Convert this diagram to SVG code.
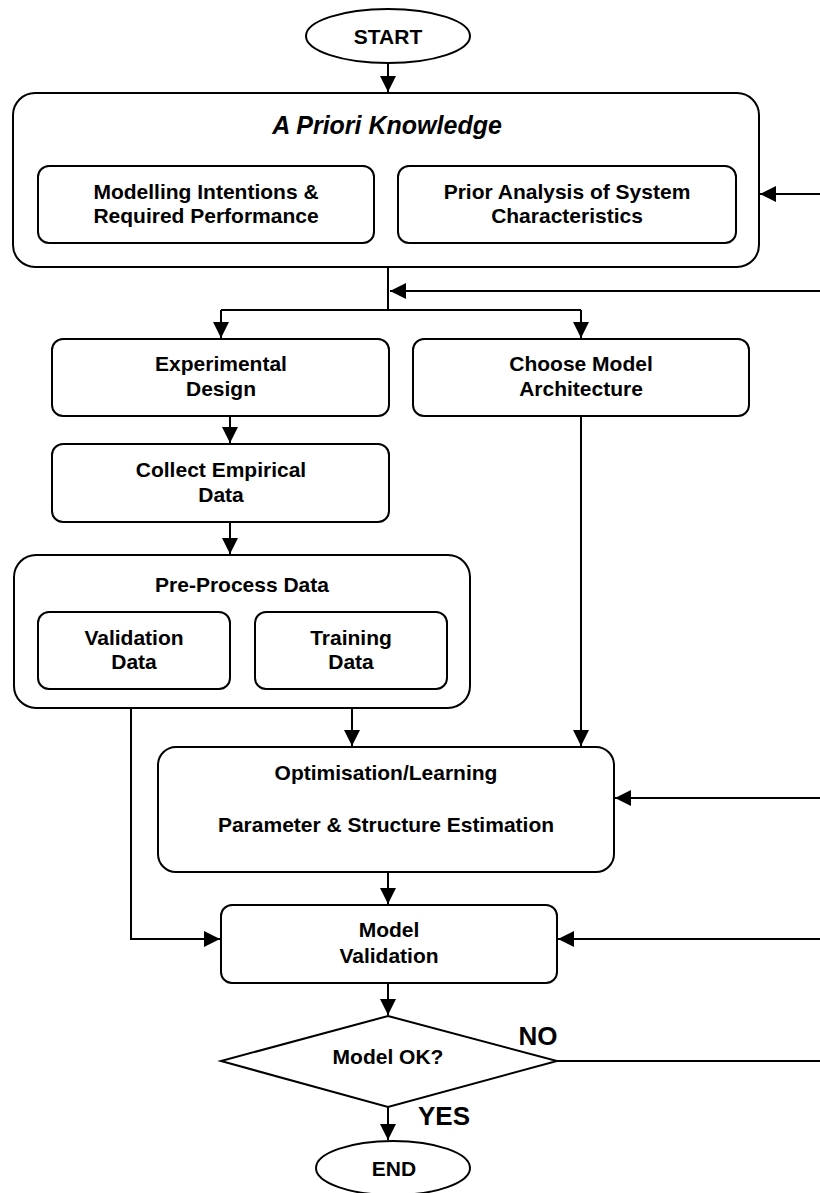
<svg xmlns="http://www.w3.org/2000/svg" width="820" height="1193" viewBox="0 0 820 1193">
<style>
.box{fill:#fff;stroke:#000;stroke-width:2}
.t{font-family:"Liberation Sans",Arial,sans-serif;font-weight:bold;font-size:21px;text-anchor:middle;fill:#000}
.big{font-size:26px}
.it{font-style:italic;font-size:25px}
.c{fill:none;stroke:#000;stroke-width:2}
</style>
<defs>
<marker id="ah" markerUnits="userSpaceOnUse" markerWidth="17" markerHeight="17" refX="16" refY="8" orient="auto">
<path d="M0,0 L16,8 L0,16 z" fill="#000"/>
</marker>
</defs>
<rect width="820" height="1193" fill="#fff"/>
<g id="connectors">
<path class="c" d="M388,63 V92" marker-end="url(#ah)"/>
<path class="c" d="M820,194 H760" marker-end="url(#ah)"/>
<path class="c" d="M388,267 V310"/>
<path class="c" d="M820,291 H390" marker-end="url(#ah)"/>
<path class="c" d="M221,310 H581"/>
<path class="c" d="M221,310 V338" marker-end="url(#ah)"/>
<path class="c" d="M581,310 V338" marker-end="url(#ah)"/>
<path class="c" d="M230,416 V443" marker-end="url(#ah)"/>
<path class="c" d="M230,522 V554" marker-end="url(#ah)"/>
<path class="c" d="M352,708 V746" marker-end="url(#ah)"/>
<path class="c" d="M581,416 V746" marker-end="url(#ah)"/>
<path class="c" d="M820,798 H615" marker-end="url(#ah)"/>
<path class="c" d="M388,872 V904" marker-end="url(#ah)"/>
<path class="c" d="M131,708 V939 H220" marker-end="url(#ah)"/>
<path class="c" d="M820,939 H558" marker-end="url(#ah)"/>
<path class="c" d="M388,983 V1015" marker-end="url(#ah)"/>
<path class="c" d="M557,1061 H820"/>
<path class="c" d="M388,1107 V1140" marker-end="url(#ah)"/>
</g>
<g id="start">
<ellipse class="box" cx="388" cy="36" rx="82" ry="27"/>
<text class="t" x="388" y="44">START</text>
</g>
<g id="apriori">
<rect class="box" x="13" y="93" width="746" height="174" rx="22"/>
<text class="t it" x="387" y="134">A Priori Knowledge</text>
</g>
<g id="modelling">
<rect class="box" x="38" y="166" width="336" height="77" rx="11"/>
<text class="t" x="206" y="199">Modelling Intentions &amp;</text>
<text class="t" x="206" y="223">Required Performance</text>
</g>
<g id="prior">
<rect class="box" x="398" y="166" width="338" height="77" rx="11"/>
<text class="t" x="567" y="199">Prior Analysis of System</text>
<text class="t" x="567" y="223">Characteristics</text>
</g>
<g id="experimental">
<rect class="box" x="52" y="339" width="337" height="77" rx="11"/>
<text class="t" x="221" y="371">Experimental</text>
<text class="t" x="221" y="396">Design</text>
</g>
<g id="choose">
<rect class="box" x="413" y="339" width="336" height="77" rx="11"/>
<text class="t" x="581" y="371">Choose Model</text>
<text class="t" x="581" y="396">Architecture</text>
</g>
<g id="collect">
<rect class="box" x="52" y="444" width="337" height="78" rx="11"/>
<text class="t" x="221" y="477">Collect Empirical</text>
<text class="t" x="221" y="502">Data</text>
</g>
<g id="preprocess">
<rect class="box" x="14" y="555" width="456" height="153" rx="22"/>
<text class="t" x="242" y="592">Pre-Process Data</text>
</g>
<g id="validationdata">
<rect class="box" x="38" y="612" width="192" height="77" rx="11"/>
<text class="t" x="134" y="645">Validation</text>
<text class="t" x="134" y="669">Data</text>
</g>
<g id="trainingdata">
<rect class="box" x="255" y="612" width="192" height="77" rx="11"/>
<text class="t" x="351" y="645">Training</text>
<text class="t" x="351" y="669">Data</text>
</g>
<g id="optimisation">
<rect class="box" x="158" y="747" width="456" height="125" rx="18"/>
<text class="t" x="386" y="780">Optimisation/Learning</text>
<text class="t" x="386" y="832">Parameter &amp; Structure Estimation</text>
</g>
<g id="modelvalidation">
<rect class="box" x="221" y="905" width="336" height="78" rx="11"/>
<text class="t" x="389" y="937">Model</text>
<text class="t" x="389" y="963">Validation</text>
</g>
<g id="decision">
<polygon class="box" points="388,1016 557,1061 388,1107 221,1061"/>
<text class="t" x="388" y="1064">Model OK?</text>
<text class="t big" x="538" y="1045">NO</text>
<text class="t big" x="444" y="1125">YES</text>
</g>
<g id="end">
<ellipse class="box" cx="393" cy="1168" rx="77" ry="27"/>
<text class="t" x="394" y="1176">END</text>
</g>
</svg>
